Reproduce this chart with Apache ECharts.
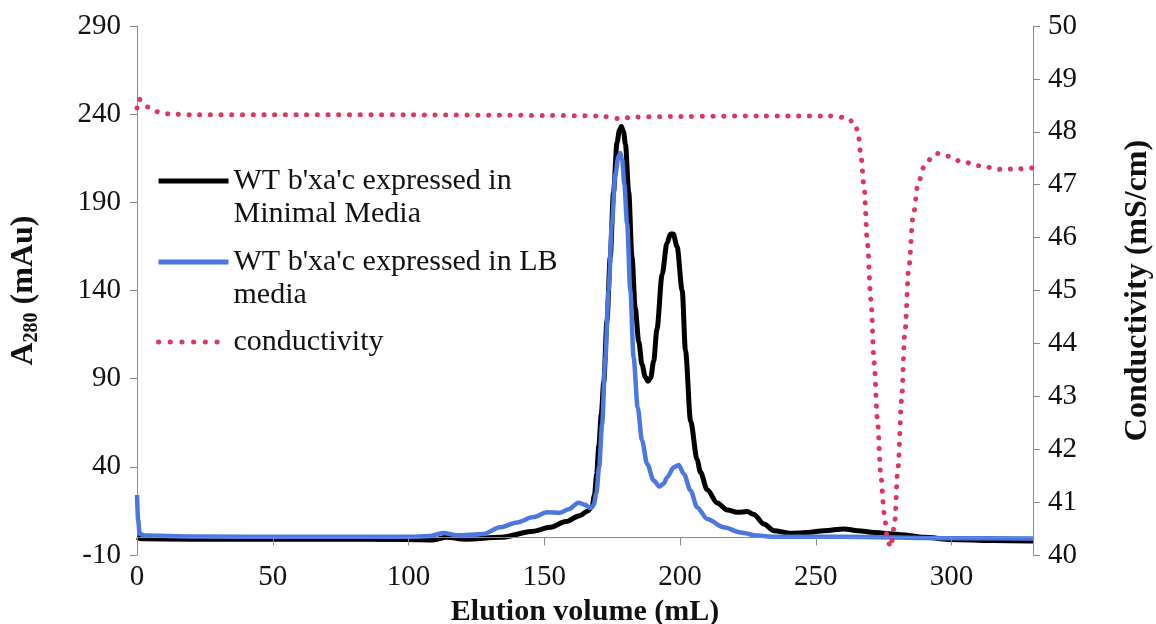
<!DOCTYPE html>
<html>
<head>
<meta charset="utf-8">
<script src="https://cdn.jsdelivr.net/npm/echarts@6/dist/echarts.min.js"></script>
<style>
  html, body { margin: 0; padding: 0; background: #fff; }
  #chart { width: 1156px; height: 624px; }
</style>
</head>
<body>
<div id="chart"></div>
<script>
// elution volume (mL) and A280 (mAu) for the minimal-media run
const mmVolume = [0, 2, 20, 60, 100, 109, 114, 121, 134, 146, 152, 158, 163, 166, 167.6, 168.5, 169.3, 170.1, 171, 171.9, 173.1, 174.3, 175.5, 176.8, 177.7, 178.4, 179.2, 179.9, 181.1, 182.3, 183.5, 184.8, 186, 187.2, 188.2, 189.2, 190.3, 191.5, 193.4, 195.2, 196.5, 197.5, 198.9, 200.8, 202, 203.9, 206.3, 207.5, 210, 213.7, 217.4, 221.1, 224.8, 227.2, 230.9, 234.6, 240.7, 246.9, 253, 260.4, 265.4, 271.5, 281.3, 290, 300, 315, 330]
const mmA280 = [0, -0.8, -1, -1, -1.2, -1.5, 0, -1, 0, 3.5, 5.7, 9, 12.3, 15, 17.5, 24, 36, 52, 70, 88, 123, 159, 196, 224, 231, 233, 230, 223, 196, 159, 130, 111, 98, 91, 88.5, 90.5, 100, 118, 149, 167, 172, 172, 165, 140, 106, 66, 44, 37, 27, 19.5, 15.5, 14.2, 14.6, 13, 7.6, 3.8, 2.3, 2.8, 3.8, 4.8, 3.8, 2.8, 1.5, 0, -1.2, -1.8, -2]

// LB media run
const lbVolume = [0, 0.4, 1, 3, 20, 60, 100, 108, 112.8, 118, 127.6, 133.7, 140, 146, 151, 155.9, 159, 162.6, 165.1, 166.9, 168.2, 169.2, 170.2, 171.3, 172.5, 173.7, 174.9, 176.2, 177.3, 178, 178.7, 179.5, 180.5, 181.7, 182.9, 184.4, 186, 187.9, 190.3, 192.4, 194, 195.2, 197.7, 199.5, 201.4, 203.9, 206.3, 210, 216.1, 222.3, 228.4, 234.6, 260, 300, 330]
const lbA280 = [24, 10, 2, 1, 0.5, 0.3, 0.3, 0.8, 2.5, 1.2, 1.9, 5.7, 8.5, 11.5, 14.2, 14, 16, 19.7, 18.5, 16.5, 18.5, 25, 40, 64, 102, 140, 178, 206, 216, 218, 214, 200, 178, 140, 102, 73.7, 55, 41.6, 32.2, 28.8, 30.5, 34, 39.7, 41, 36, 26.5, 17, 10.4, 5.7, 2.8, 1, 0.3, 0.3, -0.5, -0.7]

// conductivity (mS/cm)
const condVolume = [0, 0.5, 4, 7.6, 11.3, 20, 60, 100, 150, 170, 178, 183, 200, 230, 255, 260.9, 264.4, 265.6, 266.6, 267.8, 269.0, 270.3, 271.5, 272.7, 274.0, 275.2, 276.4, 277.6, 278.9, 280.3, 281.6, 282.8, 284.3, 285.8, 287.7, 289.9, 293, 294.9, 298.6, 303, 310, 318, 325, 330]
const condValue = [48.45, 48.62, 48.47, 48.38, 48.34, 48.32, 48.32, 48.32, 48.31, 48.30, 48.25, 48.28, 48.29, 48.30, 48.30, 48.27, 48.17, 47.97, 47.56, 46.94, 45.90, 44.82, 43.63, 42.55, 41.47, 40.79, 40.28, 40.15, 40.53, 41.67, 42.93, 44.2, 45.45, 46.39, 47.03, 47.34, 47.53, 47.59, 47.54, 47.45, 47.36, 47.29, 47.3, 47.32]

const seriesNames = [
  "WT b'xa'c expressed in\nMinimal Media",
  "WT b'xa'c expressed in LB\nmedia",
  'conductivity'
]

const serif = "'Liberation Serif', 'DejaVu Serif', serif"
const axisGrey = '#8a8a8a'
const mmColor = '#000000'
const lbColor = '#4c77de'
const condColor = '#df3561'

const pairs = (xs, ys) => xs.map((x, i) => [x, ys[i]])

const chart = echarts.init(document.getElementById('chart'))

const legendText = {
  fontFamily: serif,
  fontSize: 30,
  color: '#111',
  lineHeight: 33
}

// one legend per series so each icon can sit on the first text line
const legendAt = (name, top, lineStyle, twoLines) => ({
  left: 156,
  top: top,
  padding: 0,
  itemWidth: 70,
  itemHeight: 14,
  data: [name],
  // a blank first line keeps the icon level with the first text line
  formatter: (n) => (twoLines ? ' \n' + n : n),
  itemStyle: { opacity: 0 },
  lineStyle: lineStyle,
  textStyle: legendText
})

const option = {
  animation: false,
  grid: { left: 137, right: 123, top: 26, bottom: 69, containLabel: false, outerBoundsMode: 'none' },
  legend: [
    legendAt(seriesNames[0], 131.5, { color: mmColor, width: 5 }, true),
    legendAt(seriesNames[1], 212.5, { color: lbColor, width: 5 }, true),
    legendAt(seriesNames[2], 325.5, { color: condColor, width: 5, type: [0.1, 11.6], cap: 'round' }, false)
  ],
  xAxis: [
    {
      type: 'value',
      min: 0,
      max: 330,
      interval: 50,
      name: 'Elution volume (mL)',
      nameLocation: 'middle',
      nameGap: 40,
      nameTextStyle: { fontFamily: serif, fontSize: 30, fontWeight: 'bold', color: '#111' },
      axisLine: { show: false, onZero: false },
      axisTick: { show: false },
      splitLine: { show: false },
      axisLabel: { fontFamily: serif, fontSize: 29, color: '#111', margin: 8, showMaxLabel: false }
    },
    {
      // unlabelled copy whose line runs through A280 = 0, ticks pointing down
      type: 'value',
      min: 0,
      max: 330,
      interval: 50,
      position: 'top',
      axisLine: { show: true, onZero: true, onZeroAxisIndex: 0, lineStyle: { color: axisGrey, width: 1 } },
      axisTick: { show: true, inside: true, length: 8, lineStyle: { color: axisGrey } },
      axisLabel: { show: false },
      splitLine: { show: false },
      z: 5
    }
  ],
  yAxis: [
    {
      type: 'value',
      min: -10,
      max: 290,
      interval: 50,
      position: 'left',
      name: '{b|A}{s|280}{b| (mAu)}',
      nameLocation: 'middle',
      nameRotate: 90,
      nameGap: 95,
      nameTextStyle: {
        rich: {
          b: { fontFamily: serif, fontSize: 32, fontWeight: 'bold', color: '#111', lineHeight: 36 },
          s: { fontFamily: serif, fontSize: 20, fontWeight: 'bold', color: '#111', lineHeight: 20, verticalAlign: 'bottom' }
        }
      },
      axisLine: { show: true, onZero: false, lineStyle: { color: axisGrey, width: 1 } },
      axisTick: { show: true, length: 7, lineStyle: { color: axisGrey } },
      splitLine: { show: false },
      axisLabel: { fontFamily: serif, fontSize: 29, color: '#111', margin: 16 }
    },
    {
      type: 'value',
      min: 40,
      max: 50,
      interval: 1,
      position: 'right',
      name: 'Conductivity (mS/cm)',
      nameLocation: 'middle',
      nameRotate: 90,
      nameGap: 89,
      nameTextStyle: { fontFamily: serif, fontSize: 32, fontWeight: 'bold', color: '#111' },
      axisLine: { show: true, onZero: false, lineStyle: { color: axisGrey, width: 1 } },
      axisTick: { show: true, length: 7, lineStyle: { color: axisGrey } },
      splitLine: { show: false },
      axisLabel: { fontFamily: serif, fontSize: 29, color: '#111', margin: 15 }
    }
  ],
  series: [
    {
      name: seriesNames[0],
      type: 'line',
      xAxisIndex: 0,
      yAxisIndex: 0,
      data: pairs(mmVolume, mmA280),
      symbol: 'none',
      smooth: 0.3,
      smoothMonotone: 'x',
      lineStyle: { color: mmColor, width: 5 },
      itemStyle: { color: mmColor }
    },
    {
      name: seriesNames[1],
      type: 'line',
      xAxisIndex: 0,
      yAxisIndex: 0,
      data: pairs(lbVolume, lbA280),
      symbol: 'none',
      smooth: 0.3,
      smoothMonotone: 'x',
      lineStyle: { color: lbColor, width: 4.5 },
      itemStyle: { color: lbColor }
    },
    {
      name: seriesNames[2],
      type: 'line',
      xAxisIndex: 0,
      yAxisIndex: 1,
      data: pairs(condVolume, condValue),
      symbol: 'none',
      smooth: 0.3,
      smoothMonotone: 'x',
      lineStyle: { color: condColor, width: 5, type: [0.1, 10.6], cap: 'round' },
      itemStyle: { color: condColor }
    }
  ]
}

chart.setOption(option)
</script>
</body>
</html>
